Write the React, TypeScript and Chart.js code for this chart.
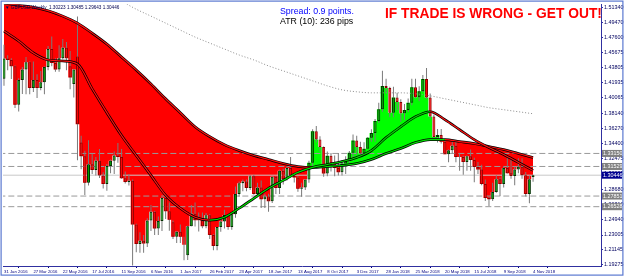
import React, { useEffect, useRef } from "react";
import { Chart, registerables } from "chart.js";

Chart.register(...registerables);

// ---- axis labels ----
const X_LABEL_WEEKS = [0, 8, 16, 24, 32, 40, 48, 56, 64, 72, 80, 88, 96, 104, 112, 120, 128, 136, 144];
const X_LABELS = [
  "31 Jan 2016", "27 Mar 2016", "22 May 2016", "17 Jul 2016", "11 Sep 2016", "6 Nov 2016",
  "1 Jan 2017", "26 Feb 2017", "23 Apr 2017", "18 Jun 2017", "13 Aug 2017", "8 Oct 2017",
  "3 Dec 2017", "28 Jan 2018", "25 Mar 2018", "20 May 2018", "15 Jul 2018", "9 Sep 2018", "4 Nov 2018",
];
const Y_TICKS = [
  1.5134, 1.4947, 1.476, 1.45675, 1.43805, 1.41935, 1.40065, 1.3814, 1.3627,
  1.344, 1.32475, 1.30605, 1.2868, 1.2681, 1.2494, 1.23005, 1.21145, 1.19275,
];
const Y_MIN = 1.1915;
const Y_MAX = 1.5171;

// ---- weekly GBPUSD candles (31 Jan 2016 .. 4 Nov 2018) ----
const OPENS = [
  1.4245, 1.4497, 1.4478, 1.4401, 1.392, 1.423, 1.436, 1.445, 1.413, 1.4228, 1.413, 1.42, 1.439, 1.4615, 1.444, 1.436, 1.45, 1.463, 1.44, 1.418,
  1.452, 1.345, 1.328, 1.295, 1.318, 1.311, 1.3225, 1.304, 1.2935, 1.316, 1.3225, 1.329, 1.327, 1.3005, 1.296, 1.2975, 1.243, 1.219, 1.223, 1.2195,
  1.248, 1.259, 1.238, 1.2475, 1.276, 1.2595, 1.246, 1.228, 1.234, 1.218, 1.205, 1.241, 1.2565, 1.2485, 1.2485, 1.241, 1.2545, 1.23, 1.2165, 1.24,
  1.247, 1.255, 1.24, 1.256, 1.281, 1.2945, 1.2965, 1.2885, 1.303, 1.281, 1.289, 1.2745, 1.278, 1.272, 1.3025, 1.2885, 1.31, 1.2995, 1.3135, 1.304,
  1.3015, 1.2875, 1.289, 1.299, 1.32, 1.359, 1.349, 1.3395, 1.3065, 1.3285, 1.319, 1.3135, 1.308, 1.319, 1.3225, 1.3325, 1.3475, 1.3395, 1.3315, 1.3375,
  1.351, 1.357, 1.372, 1.3865, 1.4155, 1.413, 1.382, 1.401, 1.3955, 1.3815, 1.3855, 1.3945, 1.414, 1.4015, 1.409, 1.424, 1.401, 1.3775, 1.352, 1.3545,
  1.346, 1.3305, 1.3355, 1.341, 1.327, 1.327, 1.321, 1.328, 1.3235, 1.3145, 1.3115, 1.2935, 1.276, 1.2745, 1.2835, 1.2995, 1.2935, 1.3135, 1.307, 1.3035,
  1.3115, 1.315, 1.3045, 1.281, 1.30223,
];
const HIGHS = [
  1.4668, 1.4535, 1.45, 1.441, 1.425, 1.439, 1.4515, 1.446, 1.4459, 1.43, 1.434, 1.44, 1.465, 1.477, 1.45, 1.466, 1.474, 1.47, 1.459, 1.436,
  1.5018, 1.3535, 1.335, 1.348, 1.331, 1.327, 1.337, 1.308, 1.3185, 1.324, 1.334, 1.3445, 1.337, 1.309, 1.306, 1.299, 1.244, 1.2335, 1.23, 1.251,
  1.2675, 1.26, 1.253, 1.2775, 1.2775, 1.2705, 1.248, 1.235, 1.243, 1.228, 1.2415, 1.2675, 1.2705, 1.258, 1.258, 1.2575, 1.256, 1.231, 1.24, 1.252,
  1.2615, 1.255, 1.258, 1.2905, 1.2965, 1.299, 1.299, 1.3048, 1.305, 1.295, 1.298, 1.2815, 1.2815, 1.303, 1.303, 1.3115, 1.3125, 1.316, 1.327, 1.305,
  1.303, 1.295, 1.299, 1.3225, 1.3615, 1.3655, 1.353, 1.34, 1.334, 1.332, 1.329, 1.332, 1.323, 1.328, 1.3345, 1.355, 1.3535, 1.346, 1.3455, 1.352,
  1.3615, 1.3745, 1.3945, 1.4345, 1.4245, 1.4145, 1.4145, 1.407, 1.399, 1.393, 1.4, 1.4245, 1.4245, 1.415, 1.429, 1.4377, 1.406, 1.38, 1.362, 1.362,
  1.347, 1.3365, 1.3475, 1.3475, 1.3315, 1.3285, 1.329, 1.3365, 1.326, 1.321, 1.3175, 1.299, 1.278, 1.295, 1.3045, 1.3015, 1.316, 1.3295, 1.3265, 1.315,
  1.3255, 1.3255, 1.3085, 1.304, 1.3049,
];
const LOWS = [
  1.4156, 1.435, 1.424, 1.388, 1.3836, 1.4055, 1.405, 1.4052, 1.408, 1.4005, 1.41, 1.405, 1.435, 1.44, 1.433, 1.433, 1.4485, 1.435, 1.4115, 1.401,
  1.3229, 1.312, 1.2798, 1.2915, 1.306, 1.304, 1.301, 1.288, 1.285, 1.307, 1.306, 1.32, 1.3, 1.294, 1.2915, 1.192, 1.2085, 1.208, 1.208, 1.215,
  1.235, 1.23, 1.23, 1.235, 1.25, 1.2355, 1.225, 1.22, 1.22, 1.1986, 1.199, 1.241, 1.2405, 1.2345, 1.2385, 1.2385, 1.225, 1.211, 1.211, 1.234,
  1.238, 1.2365, 1.2365, 1.2515, 1.2775, 1.2845, 1.2845, 1.286, 1.28, 1.277, 1.2635, 1.2635, 1.259, 1.27, 1.281, 1.281, 1.293, 1.298, 1.303, 1.2955,
  1.284, 1.2775, 1.286, 1.295, 1.313, 1.345, 1.334, 1.3025, 1.303, 1.309, 1.303, 1.304, 1.304, 1.306, 1.3175, 1.3225, 1.33, 1.33, 1.33, 1.337,
  1.346, 1.346, 1.3695, 1.3835, 1.4065, 1.3765, 1.3765, 1.3855, 1.371, 1.373, 1.383, 1.3915, 1.4, 1.3965, 1.408, 1.399, 1.3745, 1.349, 1.345, 1.344,
  1.3305, 1.3205, 1.3315, 1.3205, 1.31, 1.305, 1.31, 1.31, 1.2957, 1.306, 1.292, 1.2725, 1.266, 1.2725, 1.2825, 1.2785, 1.289, 1.3065, 1.3, 1.292,
  1.307, 1.3, 1.278, 1.2695, 1.2964,
];
const CLOSES = [
  1.4497, 1.4478, 1.4401, 1.392, 1.423, 1.436, 1.445, 1.413, 1.4228, 1.413, 1.42, 1.439, 1.4615, 1.444, 1.436, 1.45, 1.463, 1.45, 1.426, 1.436,
  1.3679, 1.328, 1.295, 1.318, 1.311, 1.3225, 1.304, 1.2935, 1.316, 1.3225, 1.329, 1.327, 1.3005, 1.296, 1.2975, 1.243, 1.219, 1.223, 1.2195, 1.248,
  1.259, 1.238, 1.2475, 1.276, 1.2595, 1.249, 1.228, 1.234, 1.228, 1.218, 1.241, 1.2565, 1.2485, 1.2485, 1.241, 1.2545, 1.23, 1.2165, 1.24, 1.247,
  1.255, 1.24, 1.256, 1.281, 1.2945, 1.2965, 1.2885, 1.303, 1.281, 1.289, 1.2745, 1.278, 1.272, 1.3025, 1.2885, 1.31, 1.2995, 1.3135, 1.304, 1.3015,
  1.2875, 1.289, 1.299, 1.32, 1.359, 1.349, 1.3395, 1.3065, 1.3285, 1.319, 1.3135, 1.308, 1.319, 1.3225, 1.3325, 1.3475, 1.3395, 1.3315, 1.3375, 1.351,
  1.357, 1.372, 1.3865, 1.4155, 1.413, 1.382, 1.401, 1.3955, 1.3815, 1.3855, 1.3945, 1.414, 1.4015, 1.409, 1.424, 1.401, 1.3775, 1.352, 1.3545, 1.346,
  1.3305, 1.3355, 1.341, 1.327, 1.327, 1.321, 1.328, 1.3235, 1.3145, 1.3115, 1.2935, 1.276, 1.2745, 1.2835, 1.2995, 1.2935, 1.3135, 1.307, 1.3035, 1.3115,
  1.315, 1.3045, 1.281, 1.2995, 1.30446,
];

// ---- moving averages, read every 4 weeks ----
const MA_WEEKS = [0, 4, 8, 12, 16, 20, 24, 28, 32, 36, 40, 44, 48, 52, 56, 60, 64, 68, 72, 76, 80, 84, 88, 92, 96, 100, 104, 108, 112, 116, 120, 124, 128, 132, 136, 140, 144];
const SLOW_MA = [
  1.5184, 1.5159, 1.5134, 1.5091, 1.5023, 1.4936, 1.4812, 1.4676, 1.4515, 1.4354, 1.4181, 1.3995, 1.3822, 1.3648, 1.3525, 1.3425, 1.3351, 1.3289, 1.324,
  1.319, 1.3153, 1.3141, 1.3153, 1.3165, 1.319, 1.324, 1.3314, 1.3376, 1.345, 1.3487, 1.3487, 1.3463, 1.3438, 1.3401, 1.3364, 1.3314, 1.3265,
];
const FAST_MA = [
  1.4837, 1.4713, 1.4565, 1.4478, 1.4465, 1.4428, 1.4119, 1.3822, 1.3537, 1.3289, 1.3042, 1.2794, 1.2633, 1.2522, 1.2485, 1.2522, 1.2633, 1.2757, 1.2881,
  1.298, 1.3079, 1.3141, 1.3178, 1.3215, 1.3265, 1.3351, 1.3512, 1.3648, 1.3772, 1.3834, 1.3735, 1.3611, 1.3487, 1.3388, 1.3302, 1.3203, 1.3104,
];
const LONG_WEEKS = [32, 36, 40, 44, 48, 52, 56, 60, 64, 68, 72, 76, 80, 84, 88, 92, 96, 100, 104, 108, 112, 116, 120, 124, 128, 132, 136, 140, 144];
const LONG_MA = [
  1.5208, 1.5109, 1.5023, 1.4936, 1.4849, 1.4763, 1.4688, 1.4614, 1.454, 1.4478, 1.4404, 1.4342, 1.428, 1.4218, 1.4156, 1.4106, 1.4082, 1.4069, 1.4069,
  1.4069, 1.4057, 1.4032, 1.3995, 1.3958, 1.3921, 1.3884, 1.3859, 1.3834, 1.3809,
];

const LEVELS = [1.3315, 1.31529, 1.27851, 1.26528];
const BID = 1.30446;

const X_MIN = -0.27;
const X_MAX = 162.49;

const RED = "#ff0000";
const GREEN = "#00ff00";

export default function App() {
  const ref = useRef<HTMLCanvasElement>(null);

  useEffect(() => {
    const canvas = ref.current;
    if (!canvas) return;

    const idx = CLOSES.map((_, i) => i);
    const closeLine = idx.map((i) => ({ x: i, y: CLOSES[i] }));
    const wicks = idx.map((i) => ({ x: i, y: [LOWS[i], HIGHS[i]] }));
    const bodies = idx.map((i) => ({ x: i, y: [OPENS[i], CLOSES[i]] }));
    const bodyBg = idx.map((i) => (CLOSES[i] >= OPENS[i] ? "#00a000" : "#ff0000"));
    const bodyBorder = idx.map((i) => (CLOSES[i] >= OPENS[i] ? "#003000" : "#8a0000"));
    const slow = MA_WEEKS.map((w, k) => ({ x: w, y: SLOW_MA[k] }));
    const fast = MA_WEEKS.map((w, k) => ({ x: w, y: FAST_MA[k] }));
    const longMa = LONG_WEEKS.map((w, k) => ({ x: w, y: LONG_MA[k] }));
    const hline = (v: number) => [
      { x: X_MIN - 1, y: v },
      { x: X_MAX + 1, y: v },
    ];
    const dirColor = (ctx: any) => (ctx.p1.parsed.y >= ctx.p0.parsed.y ? "#00e000" : "#ff1010");

    const lineBase = {
      type: "line" as const,
      pointRadius: 0,
      pointHoverRadius: 0,
    };

    const datasets: any[] = [
      // 0: slow MA outline (also fill target)
      { ...lineBase, data: slow, borderColor: "#000000", borderWidth: 2.6, cubicInterpolationMode: "monotone", order: 4 },
      // 1: close histogram to slow MA
      {
        ...lineBase,
        data: closeLine,
        stepped: "middle",
        borderColor: "rgba(0,0,0,0)",
        borderWidth: 0,
        fill: { target: 0, above: GREEN, below: RED },
        order: 20,
      },
      // levels
      ...LEVELS.map((v) => ({
        ...lineBase,
        data: hline(v),
        borderColor: "#9a9a9a",
        borderWidth: 1,
        borderDash: [6, 3],
        order: 9,
      })),
      { ...lineBase, data: hline(BID), borderColor: "#c8c8c8", borderWidth: 1, order: 9 },
      // wicks
      {
        type: "bar",
        data: wicks,
        backgroundColor: "#7a7a7a",
        barThickness: 1,
        grouped: false,
        inflateAmount: 0,
        order: 7,
      },
      // bodies
      {
        type: "bar",
        data: bodies,
        backgroundColor: bodyBg,
        borderColor: bodyBorder,
        borderWidth: 1,
        borderSkipped: false,
        barThickness: 3,
        grouped: false,
        inflateAmount: 0,
        order: 6,
      },
      // slow MA inner
      { ...lineBase, data: slow, borderWidth: 1.2, cubicInterpolationMode: "monotone", segment: { borderColor: dirColor }, borderColor: "#ff1010", order: 3 },
      // fast MA
      { ...lineBase, data: fast, borderColor: "#000000", borderWidth: 2.6, cubicInterpolationMode: "monotone", order: 2 },
      { ...lineBase, data: fast, borderWidth: 1.2, cubicInterpolationMode: "monotone", segment: { borderColor: dirColor }, borderColor: "#ff1010", order: 1 },
      // long MA dotted
      { ...lineBase, data: longMa, borderColor: "#8c8c8c", borderWidth: 1, borderDash: [1, 2], cubicInterpolationMode: "monotone", order: 0 },
    ];

    const overlay = {
      id: "overlay",
      afterDraw(chart: any) {
        const c = chart.ctx as CanvasRenderingContext2D;
        const ys = chart.scales.y;
        const area = chart.chartArea;
        c.save();
        const box = (v: number, bg: string, label: string) => {
          const y = ys.getPixelForValue(v);
          c.fillStyle = bg;
          c.fillRect(area.right + 1, y - 3.5, 20, 7);
          c.fillStyle = "#ffffff";
          c.font = "5.4px 'Liberation Sans'";
          c.textBaseline = "middle";
          c.textAlign = "left";
          c.fillText(label, area.right + 2, y + 0.3);
        };
        LEVELS.forEach((v) => box(v, "#808080", v.toFixed(5)));
        box(BID, "#000090", BID.toFixed(5));

        c.fillStyle = "#000050";
        c.font = "4.6px 'Liberation Sans'";
        c.textBaseline = "middle";
        c.textAlign = "left";
        c.fillText("\u25BC GBPUSD,Weekly  1.30223 1.30485 1.29643 1.30446", 5, 7.5);

        c.font = "8.8px 'Liberation Sans'";
        c.fillStyle = "#0000ff";
        c.fillText("Spread: 0.9 points.", 280, 11.5);
        c.fillStyle = "#000000";
        c.fillText("ATR (10): 236 pips", 280, 21.5);

        c.font = "bold 13.8px 'Liberation Sans'";
        c.fillStyle = "#ff0000";
        c.fillText("IF TRADE IS WRONG - GET OUT!", 385, 14.5);

        c.strokeStyle = "#5a78d0";
        c.lineWidth = 1.2;
        c.strokeRect(1.1, 1.1, 621.8, 274);
        c.restore();
      },
    };

    const chart = new Chart(canvas, {
      type: "bar",
      data: { datasets },
      options: {
        responsive: false,
        animation: false,
        devicePixelRatio: 1,
        events: [],
        layout: { padding: { left: 3, top: 3, right: 0, bottom: 0 } },
        plugins: { legend: { display: false }, tooltip: { enabled: false }, filler: { propagate: false } },
        scales: {
          x: {
            type: "linear",
            min: X_MIN,
            max: X_MAX,
            offset: false,
            afterBuildTicks: (s: any) => {
              s.ticks = X_LABEL_WEEKS.map((v) => ({ value: v }));
            },
            afterFit: (s: any) => {
              s.height = 12;
            },
            ticks: {
              autoSkip: false,
              maxRotation: 0,
              minRotation: 0,
              align: "start",
              padding: 1,
              color: "#000080",
              font: { size: 4.3, family: "'Liberation Sans'" },
              callback: (v: any) => {
                const k = X_LABEL_WEEKS.indexOf(Number(v));
                return k >= 0 ? X_LABELS[k] : "";
              },
            },
            grid: { display: true, drawOnChartArea: false, drawTicks: true, tickLength: 2, color: "#000080" },
            border: { display: true, color: "#3030a0", width: 1 },
          },
          y: {
            type: "linear",
            position: "right",
            min: Y_MIN,
            max: Y_MAX,
            afterBuildTicks: (s: any) => {
              s.ticks = Y_TICKS.map((v) => ({ value: v }));
            },
            afterFit: (s: any) => {
              s.width = 24;
            },
            ticks: {
              autoSkip: false,
              padding: 1,
              color: "#000060",
              font: { size: 5.4, family: "'Liberation Sans'" },
              callback: (v: any) => Number(v).toFixed(5),
            },
            grid: { display: true, drawOnChartArea: false, drawTicks: true, tickLength: 2, color: "#3030a0" },
            border: { display: true, color: "#3030a0", width: 1 },
          },
        },
      },
      plugins: [overlay],
    } as any);

    return () => chart.destroy();
  }, []);

  return (
    <div style={{ position: "fixed", left: 0, top: 0, width: 625, height: 278, background: "#ffffff" }}>
      <canvas ref={ref} width={625} height={278} style={{ display: "block", width: 625, height: 278 }} />
    </div>
  );
}
